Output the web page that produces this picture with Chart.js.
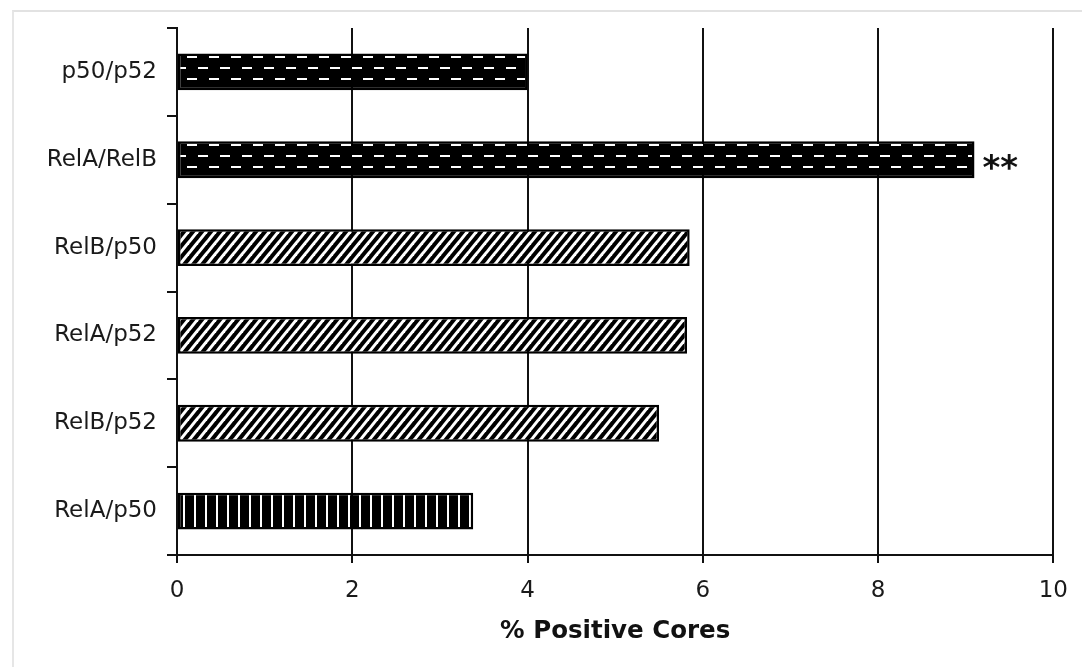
<!DOCTYPE html>
<html>
<head>
<meta charset="utf-8">
<script src="https://cdn.jsdelivr.net/npm/chart.js@4/dist/chart.umd.min.js"></script>
<style>
  html, body { margin: 0; padding: 0; background: #fff; }
  #wrap { position: relative; width: 1082px; height: 667px; overflow: hidden; }
  #frame { position: absolute; left: 12px; top: 10px; width: 1100px; height: 700px;
           border-top: 2px solid #e2e2e2; border-left: 2px solid #e6e6e6; }
  #chart { position: absolute; left: 0; top: 0; }
</style>
</head>
<body>
<div id="wrap">
  <div id="frame"></div>
  <canvas id="chart" width="1082" height="667"></canvas>
</div>
<script>
// data
const categories = ['p50/p52', 'RelA/RelB', 'RelB/p50', 'RelA/p52', 'RelB/p52', 'RelA/p50'];
const values = [4.0, 9.1, 5.85, 5.82, 5.5, 3.38];
const fillKinds = ['dash', 'dash', 'hatch', 'hatch', 'hatch', 'vert'];
const marks = ['', '**', '', '', '', ''];
const xTicks = [0, 2, 4, 6, 8, 10];
const xTitle = '% Positive Cores';

// fill patterns (black bars with white markings)
function makePattern(kind) {
  const tile = document.createElement('canvas');
  const t = tile.getContext('2d');
  if (kind === 'dash') {
    tile.width = 22; tile.height = 22;
    t.fillStyle = '#000'; t.fillRect(0, 0, 22, 22);
    t.fillStyle = '#fff';
    t.fillRect(0, 1, 10, 2);
    t.fillRect(11, 12, 10, 2);
  } else if (kind === 'hatch') {
    const w = 9, h = 11;
    tile.width = w; tile.height = h;
    t.fillStyle = '#000'; t.fillRect(0, 0, w, h);
    t.strokeStyle = '#fff'; t.lineWidth = 3;
    for (let k = -1; k <= 1; k++) {
      t.beginPath();
      t.moveTo(k * w - w, 2 * h);
      t.lineTo(k * w + 2 * w, -h);
      t.stroke();
    }
  } else {
    tile.width = 11; tile.height = 4;
    t.fillStyle = '#000'; t.fillRect(0, 0, 11, 4);
    t.fillStyle = '#fff'; t.fillRect(7, 0, 2, 4);
  }
  return document.getElementById('chart').getContext('2d').createPattern(tile, 'repeat');
}

const fills = fillKinds.map(makePattern);

// draws the "**" after a bar
const markPlugin = {
  id: 'marks',
  afterDatasetsDraw(chart) {
    const ctx = chart.ctx;
    const meta = chart.getDatasetMeta(0);
    ctx.save();
    ctx.font = 'bold 34px "DejaVu Sans"';
    ctx.fillStyle = '#111';
    ctx.textAlign = 'left';
    ctx.textBaseline = 'alphabetic';
    meta.data.forEach((bar, i) => {
      if (marks[i]) ctx.fillText(marks[i], bar.x + 8, bar.y + 19);
    });
    ctx.restore();
  }
};

new Chart(document.getElementById('chart'), {
  type: 'bar',
  data: {
    labels: categories,
    datasets: [{
      data: values,
      backgroundColor: fills,
      borderColor: '#000',
      borderWidth: 2.5,
      borderSkipped: false,
      categoryPercentage: 1,
      barPercentage: 0.42
    }]
  },
  options: {
    indexAxis: 'y',
    responsive: false,
    animation: false,
    layout: { padding: { top: 28, right: 23, left: 0, bottom: 0 } },
    plugins: { legend: { display: false }, tooltip: { enabled: false } },
    scales: {
      x: {
        min: 0,
        max: 10,
        afterBuildTicks: (scale) => { scale.ticks = xTicks.map(v => ({ value: v })); },
        afterFit: (scale) => { scale.height = 112; },
        grid: { color: '#111', lineWidth: 2, tickLength: 8, drawOnChartArea: true },
        border: { display: true, color: '#111', width: 2 },
        ticks: { color: '#1a1a1a', padding: 14, font: { family: 'DejaVu Sans', size: 23 } },
        title: {
          display: true,
          text: xTitle,
          color: '#111',
          padding: { top: 0, bottom: 21 },
          font: { family: 'DejaVu Sans', size: 24.5, weight: 'bold' }
        }
      },
      y: {
        afterFit: (scale) => { scale.width = 177; },
        grid: { color: '#111', lineWidth: 2, tickLength: 10, drawOnChartArea: false, offset: true },
        border: { display: true, color: '#111', width: 2 },
        ticks: { color: '#1a1a1a', padding: 10, font: { family: 'DejaVu Sans', size: 23 } }
      }
    }
  },
  plugins: [markPlugin]
});
</script>
</body>
</html>
